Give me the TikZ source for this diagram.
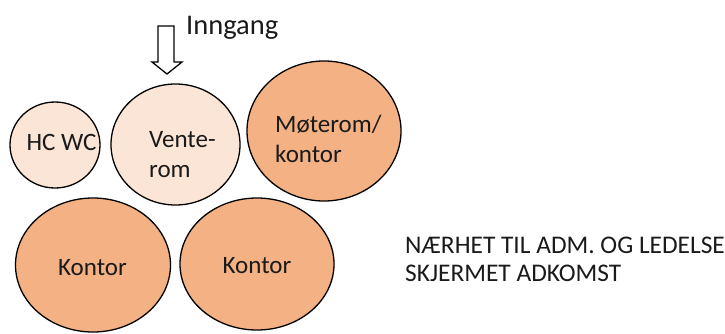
\documentclass[tikz,border=0pt]{standalone}
\usepackage{fontspec}
\setmainfont{Carlito}
\usetikzlibrary{shapes.geometric}
\definecolor{lightroom}{HTML}{FBE5D6}
\definecolor{darkroom}{HTML}{F4B183}
\definecolor{ink}{HTML}{1A1A1A}
\tikzset{
  room/.style={ellipse, draw=black, line width=1.3pt, inner sep=0pt},
  lightrm/.style={room, fill=lightroom},
  darkrm/.style={room, fill=darkroom},
  lbl/.style={inner sep=0pt, text=ink, font=\fontsize{25}{30}\selectfont},
  side/.style={inner sep=0pt, text=ink, font=\fontsize{25.4}{28}\selectfont, align=left}
}
\begin{document}
\begin{tikzpicture}[x=1pt,y=-1pt]
\useasboundingbox (0,0) rectangle (725,333);
% rooms
\node[lightrm, minimum width=90pt, minimum height=86pt] (hc) at (55,145) {};
\node[lightrm, minimum width=129pt, minimum height=121pt] (vente) at (175.5,144.5) {};
\node[darkrm, minimum width=154pt, minimum height=140pt] (mote) at (324,131) {};
\node[darkrm, minimum width=155pt, minimum height=134pt] (kontorA) at (93,265) {};
\node[darkrm, minimum width=154pt, minimum height=132pt] (kontorB) at (257,264) {};
% labels
\node[lbl, anchor=base] (thc) at (61.5,150) {HC WC};
\node[lbl, anchor=base west] (tv1) at (149,147) {Vente-};
\node[lbl, anchor=base west] (tv2) at (149,177) {rom};
\node[lbl, anchor=base west] (tm1) at (275,132) {Møterom/};
\node[lbl, anchor=base west] (tm2) at (275,162) {kontor};
\node[lbl, anchor=base] (tkA) at (92.5,275) {Kontor};
\node[lbl, anchor=base] (tkB) at (257,273) {Kontor};
% entrance arrow
\draw[line width=1.3pt, fill=white, line join=miter]
  (158,26) -- (174,26) -- (174,62) -- (182,62) -- (167,74) -- (152,62) -- (158,62) -- cycle;
\node[inner sep=0pt, anchor=base west, text=ink, font=\fontsize{28.5}{30}\selectfont] (inn) at (186,34) {Inngang};
% side text
\node[side, anchor=base west] (s1) at (405,253) {NÆRHET TIL ADM. OG LEDELSE};
\node[side, anchor=base west] (s2) at (405,281) {SKJERMET ADKOMST};
\end{tikzpicture}
\end{document}
